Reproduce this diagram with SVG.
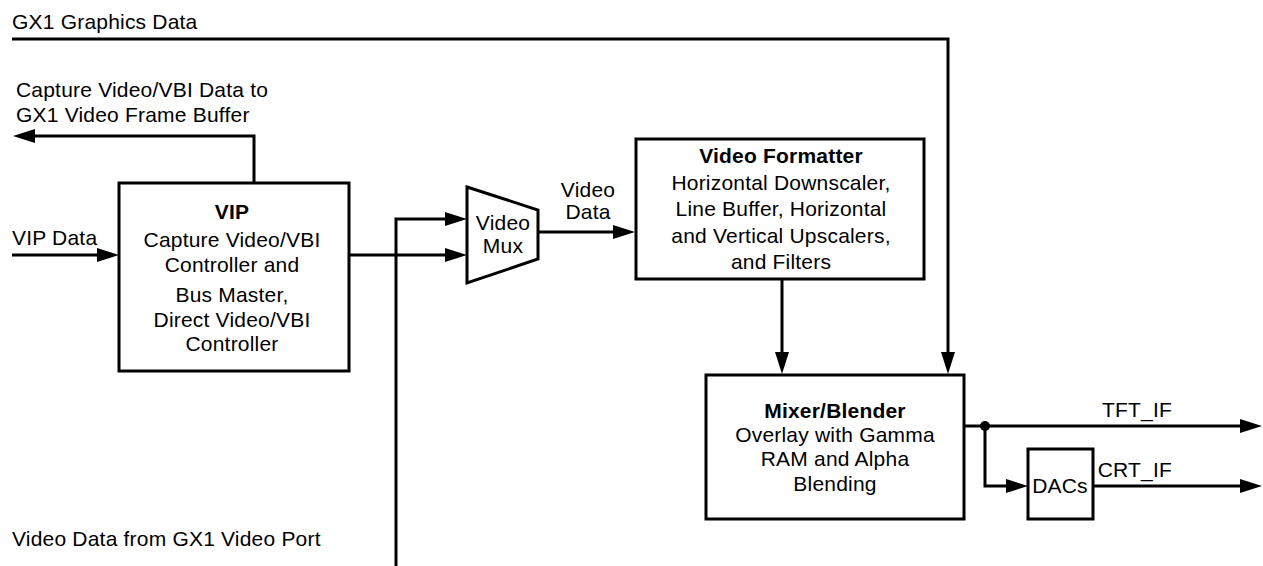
<svg xmlns="http://www.w3.org/2000/svg" width="1263" height="566" viewBox="0 0 1263 566">
<defs>
<style>
text{font-family:"Liberation Sans",Arial,sans-serif;font-size:21px;fill:#000;letter-spacing:0.2px}
.c{text-anchor:middle}
.b{font-weight:bold}
.box{fill:#fff;stroke:#000;stroke-width:3}
.ln{fill:none;stroke:#000;stroke-width:3}
</style>
<marker id="ah" markerUnits="userSpaceOnUse" markerWidth="22" markerHeight="14" refX="12" refY="7" orient="auto">
<path d="M0,0 L22,7 L0,14 z" fill="#000"/>
</marker>
</defs>
<rect width="1263" height="566" fill="#fff"/>
<g id="connectors">
<path class="ln" d="M12,39 L948,39 L948,364" marker-end="url(#ah)"/>
<path class="ln" d="M254,183 L254,136 L23,136" marker-end="url(#ah)"/>
<path class="ln" d="M12,255 L109,255" marker-end="url(#ah)"/>
<path class="ln" d="M349,255 L457,255" marker-end="url(#ah)"/>
<path class="ln" d="M396,566 L396,219 L457,219" marker-end="url(#ah)"/>
<path class="ln" d="M538,232 L625,232" marker-end="url(#ah)"/>
<path class="ln" d="M782,279 L782,364" marker-end="url(#ah)"/>
<path class="ln" d="M964,426 L1252,426" marker-end="url(#ah)"/>
<path class="ln" d="M985,426 L985,486 L1018,486" marker-end="url(#ah)"/>
<path class="ln" d="M1093,486 L1252,486" marker-end="url(#ah)"/>
<circle cx="985" cy="426" r="5" fill="#000"/>
</g>
<g id="labels">
<text x="12" y="29">GX1 Graphics Data</text>
<text x="16" y="97">Capture Video/VBI Data to</text>
<text x="16" y="122">GX1 Video Frame Buffer</text>
<text x="12" y="245">VIP Data</text>
<text x="12" y="546">Video Data from GX1 Video Port</text>
<text class="c" x="588" y="197">Video</text>
<text class="c" x="588" y="219">Data</text>
<text x="1172" y="417" text-anchor="end">TFT_IF</text>
<text x="1172" y="477" text-anchor="end">CRT_IF</text>
</g>
<g id="vip">
<rect class="box" x="119" y="183" width="230" height="188"/>
<text class="c b" x="232" y="219">VIP</text>
<text class="c" x="232" y="247">Capture Video/VBI</text>
<text class="c" x="232" y="272">Controller and</text>
<text class="c" x="232" y="302">Bus Master,</text>
<text class="c" x="232" y="327">Direct Video/VBI</text>
<text class="c" x="232" y="351">Controller</text>
</g>
<g id="mux">
<path class="box" d="M467,187 L538,210 L538,259 L467,283 z"/>
<text class="c" x="503" y="230">Video</text>
<text class="c" x="503" y="253">Mux</text>
</g>
<g id="formatter">
<rect class="box" x="636" y="139" width="288" height="140"/>
<text class="c b" x="781" y="163">Video Formatter</text>
<text class="c" x="781" y="190">Horizontal Downscaler,</text>
<text class="c" x="781" y="216">Line Buffer, Horizontal</text>
<text class="c" x="781" y="243">and Vertical Upscalers,</text>
<text class="c" x="781" y="269">and Filters</text>
</g>
<g id="mixer">
<rect class="box" x="706" y="375" width="258" height="144"/>
<text class="c b" x="835" y="418">Mixer/Blender</text>
<text class="c" x="835" y="442">Overlay with Gamma</text>
<text class="c" x="835" y="466">RAM and Alpha</text>
<text class="c" x="835" y="491">Blending</text>
</g>
<g id="dacs">
<rect class="box" x="1028" y="449" width="65" height="70"/>
<text class="c" x="1060" y="493">DACs</text>
</g>
</svg>
